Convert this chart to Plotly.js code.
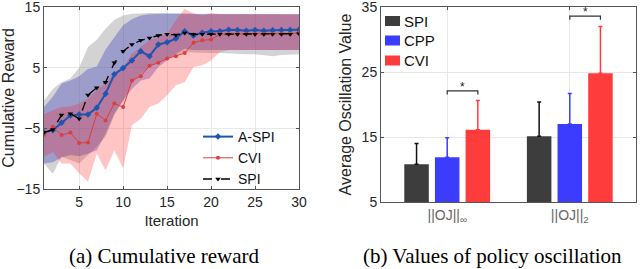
<!DOCTYPE html>
<html><head><meta charset="utf-8">
<script src="https://cdn.plot.ly/plotly-3.0.0.min.js"></script>
<style>html,body{margin:0;padding:0;background:#fff}#c{width:640px;height:269px}</style>
</head><body><div id="c"></div>
<script>
// ---- Left panel data: cumulative reward ----
const iteration = [1,2,3,4,5,6,7,8,9,10,11,12,13,14,15,16,17,18,19,20,21,22,23,24,25,26,27,28,29,30];
const aspiMean = [-5.7,-5.3,-4.1,-2.9,-2.7,-2.7,-1.6,0.7,3.9,4.95,6.2,7.7,6.9,8.8,9.2,9.8,11.0,10.3,10.75,11.0,11.0,11.25,11.2,11.1,11.2,11.1,11.15,11.2,11.2,11.25];
const cviMean  = [-6.1,-4.75,-6.1,-5.7,-7.4,-7.35,-2.6,-3.7,-0.9,-1.5,2.9,3.6,5.3,5.8,6.5,6.9,7.4,9.1,9.5,9.65,10.5,10.55,10.55,10.55,10.55,10.55,10.55,10.6,10.6,10.75];
const spiMean  = [-5.7,-5.2,-2.8,-2.6,-3.4,0.5,1.7,2.6,5.8,7.7,8.8,9.5,9.9,10.3,10.5,10.4,10.7,10.5,10.5,10.5,10.5,10.5,10.5,10.5,10.5,10.5,10.5,10.5,10.5,10.6];
const spiHi  = [-0.4,1.5,2.6,3.2,5.0,8.4,9.6,11.4,12.9,13.6,13.9,14.0,14.0,14.0,14.0,13.9,13.9,13.9,13.8,13.8,13.8,13.8,13.8,13.8,13.8,13.8,13.8,13.8,13.8,13.8];
const spiLo  = [-10.8,-12.5,-9.7,-10.2,-10.8,-9.4,-8.0,-6.4,-2.8,-0.4,2.4,4.0,5.1,5.9,6.5,7.0,7.6,7.5,7.4,7.4,7.4,7.3,7.3,7.2,7.2,7.1,6.9,7.1,7.2,7.2];
const aspiHi = [-1.5,0.2,2.4,2.9,3.6,4.8,5.2,8.0,10.0,12.0,13.0,13.6,13.8,13.9,13.9,13.9,13.9,13.8,13.8,13.8,13.8,13.8,13.8,13.8,13.8,13.8,13.8,13.8,13.8,13.8];
const aspiLo = [-10.8,-10.6,-9.8,-9.4,-9.6,-9.2,-8.6,-5.9,-2.6,-0.4,1.5,2.9,3.2,5.1,6.2,7.3,8.1,7.9,7.9,7.9,7.9,7.9,7.9,7.9,7.9,7.9,7.9,7.9,7.9,7.9];
const cviHi  = [-2.6,-2.1,-1.5,-1.4,-0.9,-0.1,1.3,2.4,4.3,5.1,7.3,8.4,9.5,10.0,10.6,12.8,14.7,13.9,13.6,14.0,13.8,13.8,13.8,13.8,13.8,13.8,13.8,13.8,13.8,13.8];
const cviLo  = [-9.7,-8.9,-10.8,-10.8,-12.4,-13.8,-9.2,-11.9,-8.6,-11.6,-4.5,-3.4,-1.5,-0.9,0.45,2.1,2.6,5.1,5.4,6.2,7.6,7.9,7.9,7.9,7.9,7.9,7.9,7.9,7.9,7.9];
const xTicksLeft = [5,10,15,20,25,30];
const yTicksLeft = [-15,-5,5,15];

// ---- Right panel data: policy oscillation ----
const groupPos = [1,2];
const groupLabels = ['||OJ||<sub>∞</sub>','||OJ||<sub>2</sub>'];
const barNames = ['SPI','CPP','CVI'];
const barColors = ['#3d3d3d','#3c3cff','#ff3c3c'];
const barSPI = [10.8,15.1];
const barCPP = [11.9,17.0];
const barCVI = [16.1,24.8];
const errTopSPI = [14.0,20.4];
const errTopCPP = [14.9,21.7];
const errTopCVI = [20.6,32.0];
const sigLeft = [1,2];
const sigRight = [1.25,2.25];
const sigLevel = [22.1,33.6];
const yTicksRight = [5,15,25,35];

const FONT = 'Liberation Sans, Arial, sans-serif';
function band(hi, lo, color){
  return {x: iteration.concat(iteration.slice().reverse()), y: hi.concat(lo.slice().reverse()),
    type:'scatter', mode:'lines', fill:'toself', fillcolor:color, line:{width:0}, hoverinfo:'skip',
    showlegend:false, xaxis:'x', yaxis:'y'};
}
const traces = [
  band(spiHi, spiLo, 'rgba(128,128,128,0.35)'),
  band(aspiHi, aspiLo, 'rgba(50,50,190,0.33)'),
  band(cviHi, cviLo, 'rgba(255,20,20,0.25)'),
  {x:iteration, y:aspiMean, name:'A-SPI', type:'scatter', mode:'lines+markers',
   line:{color:'#1f55b0', width:2}, marker:{symbol:'diamond', size:5, color:'#1f55b0'}},
  {x:iteration, y:cviMean, name:'CVI', type:'scatter', mode:'lines+markers',
   line:{color:'#d9403c', width:1}, marker:{symbol:'circle', size:4, color:'#d9403c'}},
  {x:iteration, y:spiMean, name:'SPI', type:'scatter', mode:'lines+markers',
   line:{color:'#000', width:1.3, dash:'dash'}, marker:{symbol:'triangle-down', size:5, color:'#000'}}
];
const barVals = [barSPI, barCPP, barCVI];
const barTops = [errTopSPI, errTopCPP, errTopCVI];
for (let k=0;k<3;k++){
  const vals = barVals[k], tops = barTops[k], color = barColors[k];
  traces.push({x:groupPos, y:vals, name:barNames[k], type:'bar', xaxis:'x2', yaxis:'y2', showlegend:false,
    marker:{color:color, line:{width:0}},
    error_y:{type:'data', symmetric:false, array:tops.map((t,i)=>t-vals[i]), arrayminus:vals.map(()=>0),
      color:k===0?'#111':color, thickness:1.5, width:2}});
}

const shapes = [];
const annotations = [];
for (let i=0;i<sigLeft.length;i++){
  const d = 0.55;
  shapes.push({type:'path', xref:'x2', yref:'y2',
    path:`M${sigLeft[i]},${sigLevel[i]-d} L${sigLeft[i]},${sigLevel[i]} L${sigRight[i]},${sigLevel[i]} L${sigRight[i]},${sigLevel[i]-d}`,
    line:{color:'#333', width:1.2}});
  annotations.push({xref:'x2', yref:'y2', x:(sigLeft[i]+sigRight[i])/2, y:sigLevel[i], text:'*', showarrow:false,
    yanchor:'bottom', yshift:-5, font:{family:FONT, size:12, color:'#222'}});
}
// manual legend for the bar panel (swatch + label)
const legRowsY = [21, 40.5, 60.5];
for (let k=0;k<3;k++){
  const yc = legRowsY[k];
  shapes.push({type:'rect', xref:'paper', yref:'paper', x0:385/640, x1:400/640,
    y0:(269-yc-5)/269, y1:(269-yc+5)/269, fillcolor:barColors[k], line:{width:0}});
  annotations.push({xref:'paper', yref:'paper', x:402/640, y:(269-yc)/269, text:barNames[k], showarrow:false,
    xanchor:'left', yanchor:'middle', font:{family:FONT, size:15, color:'#111'}});
}
annotations.push({xref:'paper', yref:'paper', x:164/640, y:(269-256)/269, text:'(a) Cumulative reward', showarrow:false,
  xanchor:'center', yanchor:'middle', font:{family:'Liberation Serif, Times New Roman, serif', size:21, color:'#000'}});
annotations.push({xref:'paper', yref:'paper', x:492/640, y:(269-256)/269, text:'(b) Values of policy oscillation', showarrow:false,
  xanchor:'center', yanchor:'middle', font:{family:'Liberation Serif, Times New Roman, serif', size:21, color:'#000'}});

const axCommon = {showline:true, linecolor:'#555', linewidth:1, mirror:'ticks', ticks:'inside', ticklen:3,
  tickcolor:'#555', showgrid:true, gridcolor:'#e8e8e8', gridwidth:1, zeroline:false, automargin:false,
  ticklabeloverflow:'allow', tickfont:{family:FONT, size:14, color:'#262626'}};

const layout = {
  width:640, height:269, margin:{l:0,r:0,t:0,b:0}, paper_bgcolor:'#fff', plot_bgcolor:'#fff',
  font:{family:FONT},
  xaxis: Object.assign({}, axCommon, {domain:[44/640, 299/640], range:[1,30], tickvals:xTicksLeft, anchor:'y',
    title:{text:'Iteration', font:{family:FONT, size:15, color:'#262626'}, standoff:6}}),
  yaxis: Object.assign({}, axCommon, {domain:[(269-189)/269, (269-7)/269], range:[-15,15], tickvals:yTicksLeft, anchor:'x',
    title:{text:'Cumulative Reward', font:{family:FONT, size:16, color:'#262626'}, standoff:3}}),
  xaxis2: Object.assign({}, axCommon, {domain:[381/640, 636/640], range:[0.46,2.54], tickvals:groupPos, ticktext:groupLabels, anchor:'y2',
    tickfont:{family:FONT, size:14, color:'#666'}}),
  yaxis2: Object.assign({}, axCommon, {domain:[(269-202)/269, (269-7)/269], range:[5,35], tickvals:yTicksRight, anchor:'x2',
    title:{text:'Average Oscillation Value', font:{family:FONT, size:16, color:'#262626'}, standoff:6}}),
  barmode:'group', bargap:0.25, bargroupgap:0.2,
  legend:{x:198/640, xanchor:'left', y:(269-121)/269, yanchor:'top', bgcolor:'rgba(255,255,255,0)', borderwidth:0,
    font:{family:FONT, size:14, color:'#111'}, tracegroupgap:0, itemwidth:30},
  shapes:shapes, annotations:annotations, showlegend:true
};
Plotly.newPlot('c', traces, layout, {staticPlot:true, displayModeBar:false});
</script></body></html>
